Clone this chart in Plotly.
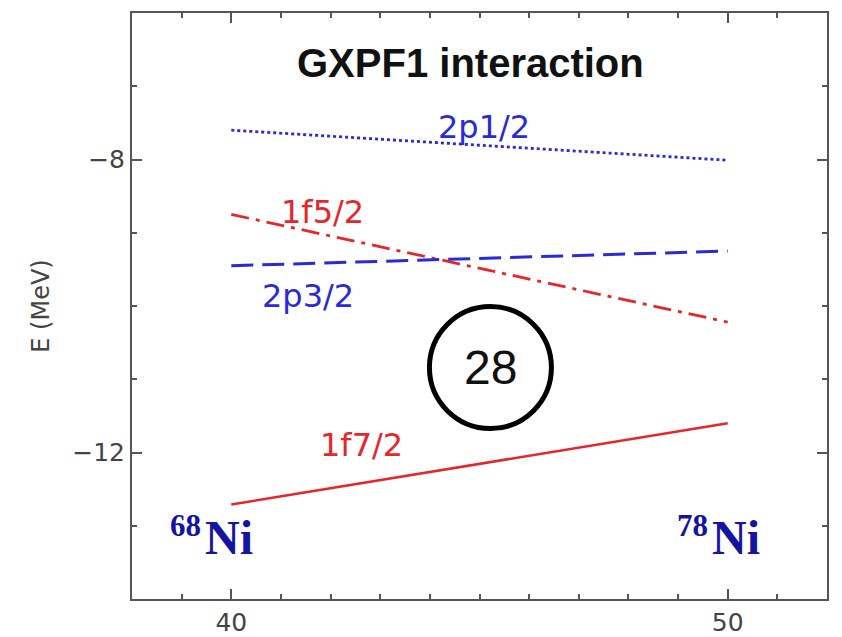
import plotly.graph_objects as go

# Neutron single-particle energies (MeV) from N=40 (68Ni) to N=50 (78Ni)
neutron_number = [40, 50]
e_2p12 = [-7.60, -8.01]
e_1f52 = [-8.75, -10.22]
e_2p32 = [-9.45, -9.25]
e_1f72 = [-12.71, -11.60]

orbit_names = ["2p1/2", "1f5/2", "2p3/2", "1f7/2"]

BLUE = "#2a2ad6"
RED = "#e5262a"
NI_BLUE = "#1414a0"

fig = go.Figure()

fig.add_trace(go.Scatter(x=neutron_number, y=e_2p12, mode="lines", name=orbit_names[0],
                         line=dict(color=BLUE, width=2.8, dash="dot")))
fig.add_trace(go.Scatter(x=neutron_number, y=e_1f52, mode="lines", name=orbit_names[1],
                         line=dict(color=RED, width=2.8, dash="18px,7px,4px,7px")))
fig.add_trace(go.Scatter(x=neutron_number, y=e_2p32, mode="lines", name=orbit_names[2],
                         line=dict(color=BLUE, width=3, dash="22px,9px")))
fig.add_trace(go.Scatter(x=neutron_number, y=e_1f72, mode="lines", name=orbit_names[3],
                         line=dict(color=RED, width=2.5)))

label_font = dict(family="DejaVu Sans", size=32)
annotations = [
    dict(x=44.82, y=-6.68, text="<b>GXPF1 interaction</b>",
         font=dict(family="Liberation Sans", size=40, color="#111111")),
    dict(x=45.1, y=-7.56, text=orbit_names[0], font=dict(label_font, color=BLUE)),
    dict(x=41.83, y=-8.71, text=orbit_names[1], font=dict(label_font, color=RED)),
    dict(x=41.55, y=-9.86, text=orbit_names[2], font=dict(label_font, color=BLUE)),
    dict(x=42.63, y=-11.90, text=orbit_names[3], font=dict(label_font, color=RED)),
    dict(x=45.22, y=-10.84, text="28",
         font=dict(family="Liberation Sans", size=48, color="#111111")),
    # nucleus labels: mass number as a raised superscript before the symbol
    dict(x=39.44, y=-13.0, text="<b>68</b>", xanchor="right",
         font=dict(family="Liberation Serif", size=31, color=NI_BLUE)),
    dict(x=39.44, y=-13.16, text="<b>Ni</b>", xanchor="left",
         font=dict(family="Liberation Serif", size=48, color=NI_BLUE)),
    dict(x=49.64, y=-13.0, text="<b>78</b>", xanchor="right",
         font=dict(family="Liberation Serif", size=31, color=NI_BLUE)),
    dict(x=49.64, y=-13.16, text="<b>Ni</b>", xanchor="left",
         font=dict(family="Liberation Serif", size=48, color=NI_BLUE)),
]
for a in annotations:
    a.setdefault("xanchor", "center")
    a.update(xref="x", yref="y", yanchor="middle", showarrow=False)
fig.update_layout(annotations=annotations)

# circled magic number
fig.add_shape(type="circle", xref="x", yref="y", xsizemode="pixel", ysizemode="pixel",
              xanchor=45.22, yanchor=-10.84, x0=-61, x1=61, y0=-61, y1=61,
              line=dict(color="black", width=5))

axis_common = dict(
    showline=True, linecolor="#555555", linewidth=2, mirror="ticks",
    ticks="inside", ticklen=10, tickwidth=1.5, tickcolor="#555555",
    showgrid=False, zeroline=False, automargin=False,
    tickfont=dict(family="DejaVu Sans", size=25, color="#444444"),
)
fig.update_xaxes(axis_common, range=[38, 52], tickmode="array", tickvals=[40, 50],
                 minor=dict(dtick=1, ticks="inside", ticklen=5, tickcolor="#555555", showgrid=False))
fig.update_yaxes(axis_common, range=[-14, -6], tickmode="array", tickvals=[-12, -8],
                 minor=dict(dtick=1, ticks="inside", ticklen=5, tickcolor="#555555", showgrid=False),
                 title=dict(text="E (MeV)", font=dict(family="DejaVu Sans", size=24, color="#444444"),
                            standoff=16))

fig.update_layout(
    width=842, height=637, showlegend=False,
    margin=dict(l=132, r=15, t=13, b=38),
    plot_bgcolor="white", paper_bgcolor="white",
)

fig.write_html("out.html")
